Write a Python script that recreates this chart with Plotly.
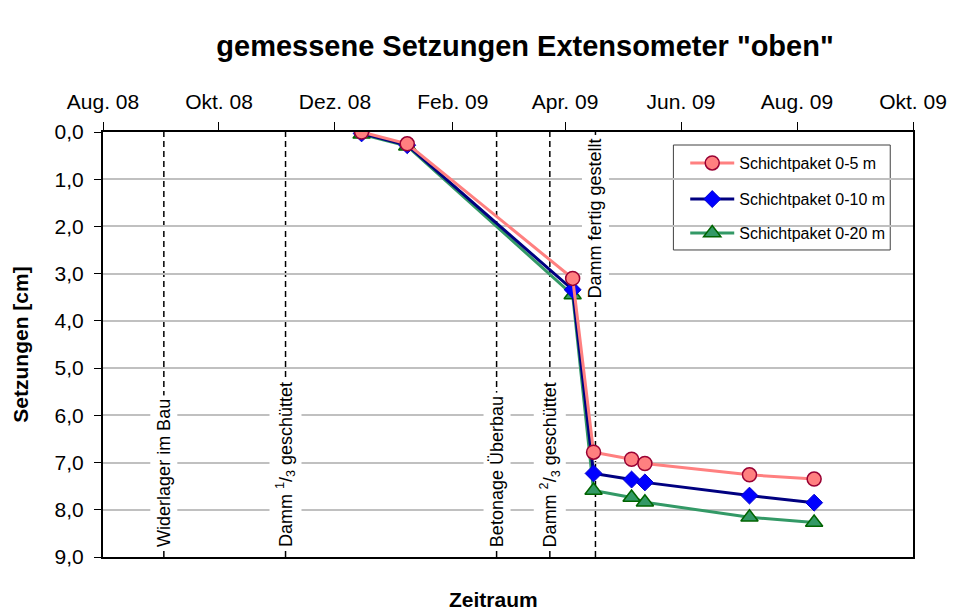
import plotly.graph_objects as go

# ---- data ----
dates = ["2008-12-15", "2009-01-08", "2009-04-05", "2009-04-16",
         "2009-05-06", "2009-05-13", "2009-07-07", "2009-08-10"]
s_0_5 = [0.00, 0.25, 3.10, 6.78, 6.93, 7.02, 7.26, 7.35]
s_0_10 = [0.03, 0.28, 3.34, 7.23, 7.36, 7.42, 7.70, 7.85]
s_0_20 = [0.05, 0.30, 3.45, 7.59, 7.74, 7.84, 8.16, 8.27]
series_names = ["Schichtpaket 0-5 m", "Schichtpaket 0-10 m", "Schichtpaket 0-20 m"]

event_dates = ["2008-09-02", "2008-11-05", "2009-02-24", "2009-03-24", "2009-04-17"]
event_labels = ["Widerlager im Bau", "Damm <sup>1</sup>/<sub>3</sub> geschüttet",
                "Betonage Überbau", "Damm <sup>2</sup>/<sub>3</sub> geschüttet",
                "Damm fertig gestellt"]

x_tickvals = ["2008-08-01", "2008-10-01", "2008-12-01", "2009-02-01",
              "2009-04-01", "2009-06-01", "2009-08-01", "2009-10-01"]
x_ticktext = ["Aug. 08", "Okt. 08", "Dez. 08", "Feb. 09",
              "Apr. 09", "Jun. 09", "Aug. 09", "Okt. 09"]
y_tickvals = [0, 1, 2, 3, 4, 5, 6, 7, 8, 9]
y_ticktext = ["0,0", "1,0", "2,0", "3,0", "4,0", "5,0", "6,0", "7,0", "8,0", "9,0"]

FONT = "Liberation Sans, Arial, sans-serif"
W, H = 951, 604  # page has an 8px body margin

fig = go.Figure()

# draw order: green, blue, salmon (salmon on top)
fig.add_trace(go.Scatter(
    x=dates, y=s_0_20, name=series_names[2], mode="lines+markers",
    line=dict(color="#339966", width=3),
    marker=dict(symbol="triangle-up", size=15, color="#339966",
                line=dict(color="#006400", width=1.5)),
    legend="legend3"))
fig.add_trace(go.Scatter(
    x=dates, y=s_0_10, name=series_names[1], mode="lines+markers",
    line=dict(color="#000080", width=3),
    marker=dict(symbol="diamond", size=13, color="#0000FF",
                line=dict(color="#0000CC", width=1)),
    legend="legend2"))
fig.add_trace(go.Scatter(
    x=dates, y=s_0_5, name=series_names[0], mode="lines+markers",
    line=dict(color="#FF8080", width=3),
    marker=dict(symbol="circle", size=14, color="#FF8080",
                line=dict(color="#990033", width=1.5)),
    legend="legend"))

shapes = []
annotations = []
for i, (d, lab) in enumerate(zip(event_dates, event_labels)):
    shapes.append(dict(type="line", xref="x", yref="paper", x0=d, x1=d, y0=0, y1=1,
                       line=dict(color="black", width=1.5, dash="6px,4px"),
                       layer="between"))
    ybot = 0.600 if i == 4 else 0.014
    annotations.append(dict(x=d, xref="x", y=ybot, yref="paper", text=lab,
                            textangle=-90, showarrow=False, xanchor="center",
                            yanchor="bottom", bgcolor="white", borderpad=3,
                            font=dict(family=FONT, size=18, color="black")))

# legend frame
shapes.append(dict(type="rect", xref="paper", yref="paper",
                   x0=0.7042, x1=0.9719, y0=0.7224, y1=0.9694,
                   line=dict(color="#404040", width=1), fillcolor="white",
                   layer="between"))

annotations.append(dict(text="<b>Zeitraum</b>", x=0.4817, xref="paper", y=-0.099,
                        yref="paper", showarrow=False, xanchor="center", yanchor="middle",
                        font=dict(family=FONT, size=21, color="black")))

leg_common = dict(bgcolor="rgba(0,0,0,0)", borderwidth=0, xanchor="left",
                  yanchor="middle", font=dict(family=FONT, size=16, color="black"),
                  x=0.7188, itemwidth=44)

fig.update_layout(
    width=W, height=H,
    margin=dict(l=95, r=38, t=124, b=55),
    paper_bgcolor="white", plot_bgcolor="white",
    font=dict(family=FONT, color="black"),
    title=dict(text="<b>gemessene Setzungen Extensometer \"oben\"</b>",
               x=517 / W, xref="container", xanchor="center",
               y=1 - 38 / H, yref="container", yanchor="middle",
               font=dict(family=FONT, size=29, color="black")),
    showlegend=True,
    legend=dict(y=0.927, **leg_common),
    legend2=dict(y=0.842, **leg_common),
    legend3=dict(y=0.762, **leg_common),
    shapes=shapes,
    annotations=annotations,
)

fig.update_xaxes(
    type="date", range=["2008-08-01", "2009-10-01"], side="top",
    tickvals=x_tickvals, ticktext=x_ticktext,
    ticks="outside", ticklen=8, tickwidth=1.2, tickcolor="black",
    ticklabelstandoff=5,
    showline=True, linecolor="black", linewidth=2, mirror=True,
    showgrid=False, zeroline=False,
    tickfont=dict(family=FONT, size=21, color="black"))

fig.update_yaxes(
    range=[9, 0], tickvals=y_tickvals, ticktext=y_ticktext,
    ticks="outside", ticklen=7, tickwidth=1.2, tickcolor="black",
    ticklabelstandoff=6,
    showline=True, linecolor="black", linewidth=2, mirror=True,
    showgrid=True, gridcolor="#C0C0C0", gridwidth=1.5, zeroline=False,
    tickfont=dict(family=FONT, size=21, color="black"),
    title=dict(text="<b>Setzungen [cm]</b>", standoff=20,
               font=dict(family=FONT, size=21, color="black")))

fig.write_html("out.html")
